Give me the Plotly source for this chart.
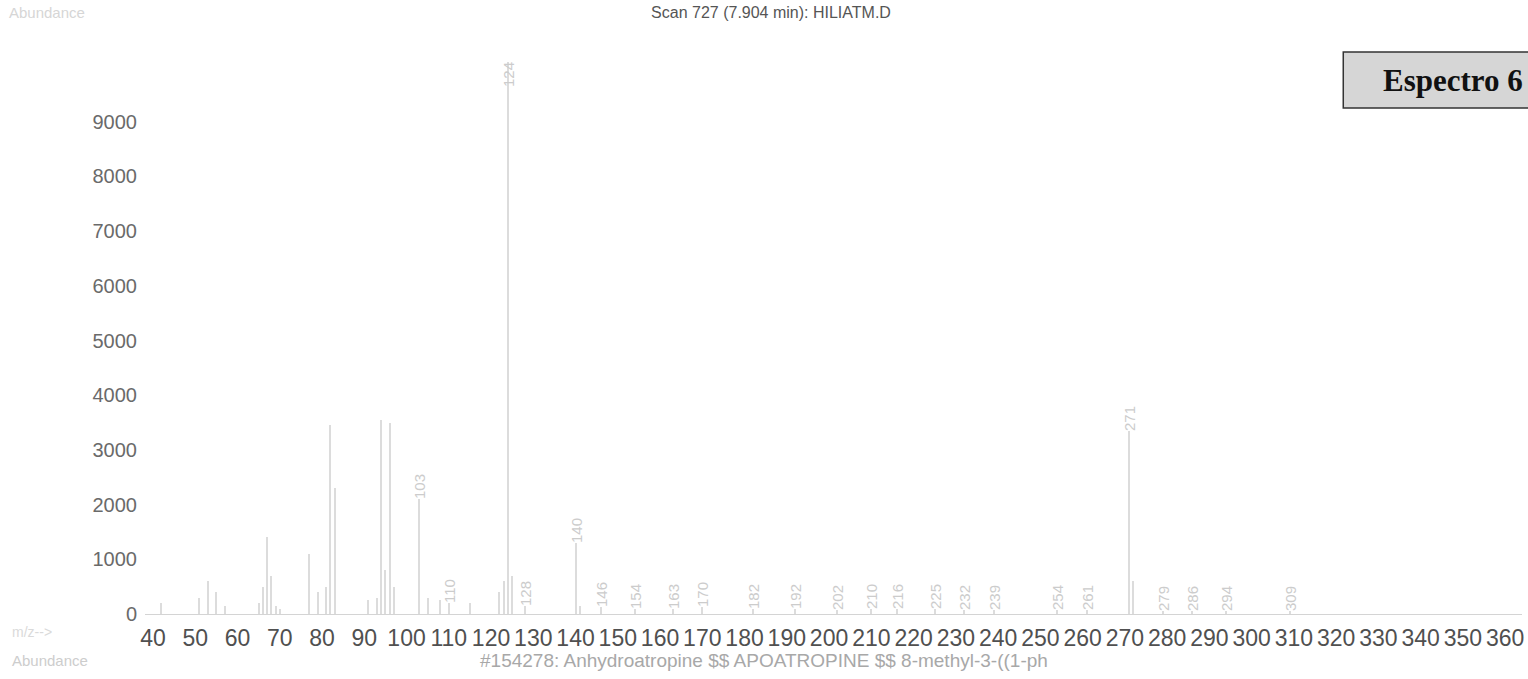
import plotly.graph_objects as go

# m/z values and abundances
mz = [42, 51, 53, 55, 57, 65, 66, 67, 68, 69, 70, 77, 79, 81, 82, 83, 91, 93, 94, 95, 96, 97,
      103, 105, 108, 110, 115, 122, 123, 124, 125, 128, 140, 141, 146, 154, 163, 170,
      182, 192, 202, 210, 216, 225, 232, 239, 254, 261, 271, 272, 279, 286, 294, 309]
abundance = [200, 300, 600, 400, 150, 200, 500, 1400, 700, 150, 100, 1100, 400, 500, 3450, 2300,
             250, 300, 3550, 800, 3500, 500, 2100, 300, 250, 200, 200, 400, 600, 10100, 700,
             150, 1300, 150, 120, 100, 100, 120, 100, 100, 80, 100, 100, 90, 80, 80, 80, 70,
             3350, 600, 60, 60, 60, 50]
peak_labels = ["", "", "", "", "", "", "", "", "", "", "", "", "", "", "", "", "", "", "", "", "", "",
               "103", "", "", "110", "", "", "", "124", "", "128", "140", "", "146", "154", "163", "170",
               "182", "192", "202", "210", "216", "225", "232", "239", "254", "261", "271", "", "279",
               "286", "294", "309"]

x_ticks = list(range(40, 361, 10))
y_ticks = list(range(0, 9001, 1000))

title_text = "Scan 727 (7.904 min): HILIATM.D"
library_text = "#154278: Anhydroatropine $$ APOATROPINE $$ 8-methyl-3-((1-ph"

# the base peak's label sits alongside the top of its line, the others above their peaks
label_pos = ["inside" if lab == "124" else "outside" for lab in peak_labels]

fig = go.Figure()

fig.add_trace(go.Bar(
    x=mz,
    y=abundance,
    width=0.25,
    marker=dict(color="#dcdcdc", line=dict(width=0)),
    text=peak_labels,
    textposition=label_pos,
    insidetextanchor="end",
    textangle=-90,
    constraintext="none",
    cliponaxis=False,
    textfont=dict(size=15, color="#cccccc", family="Liberation Sans"),
    insidetextfont=dict(size=15, color="#cccccc", family="Liberation Sans"),
    outsidetextfont=dict(size=15, color="#cccccc", family="Liberation Sans"),
    showlegend=False,
))

fig.update_layout(
    width=1528,
    height=679,
    plot_bgcolor="white",
    paper_bgcolor="white",
    margin=dict(l=145, r=4, t=45, b=57),
    font=dict(family="Liberation Sans", color="#555555"),
    title=dict(text=title_text, x=771 / 1528, y=1 - 12 / 679, xanchor="center", yanchor="middle",
               xref="container", yref="container", font=dict(size=16, color="#555555")),
    bargap=0,
    xaxis=dict(
        range=[38.1, 364.0],
        tickvals=x_ticks,
        ticktext=[str(v) for v in x_ticks],
        tickangle=0,
        tickfont=dict(size=23, color="#505050"),
        ticks="",
        showgrid=False,
        zeroline=False,
        showline=False,
    ),
    yaxis=dict(
        range=[-146, 10402],
        tickvals=y_ticks,
        tickfont=dict(size=20, color="#6a6a6a"),
        ticklabelstandoff=7,
        showgrid=False,
        zeroline=True,
        zerolinecolor="#d4d4d4",
        zerolinewidth=1,
        showline=False,
        ticks="",
    ),
)

# "Espectro 6" box
fig.add_shape(type="rect", xref="paper", yref="paper", x0=0.8702, x1=1.01, y0=0.8908, y1=0.9879,
              fillcolor="#d6d6d6", line=dict(color="#333333", width=1.5), layer="above")
fig.add_annotation(text="<b>Espectro 6</b>", xref="paper", yref="paper", x=0.8977, y=0.9393,
                   xanchor="left", yanchor="middle", showarrow=False,
                   font=dict(family="Liberation Serif", size=31, color="#111111"))

# faint scan texts
fig.add_annotation(text="Abundance", xref="paper", yref="paper", x=-0.1, y=1.057,
                   xanchor="left", yanchor="middle", showarrow=False,
                   font=dict(size=15, color="#d6d6d6"))
fig.add_annotation(text="m/z-->", xref="paper", yref="paper", x=-0.098, y=-0.0173,
                   xanchor="left", yanchor="middle", showarrow=False,
                   font=dict(size=14, color="#dadada"))
fig.add_annotation(text="Abundance", xref="paper", yref="paper", x=-0.098, y=-0.0659,
                   xanchor="left", yanchor="middle", showarrow=False,
                   font=dict(size=15, color="#cdcdcd"))
fig.add_annotation(text=library_text, xref="paper", yref="paper", x=0.4496, y=-0.0659,
                   xanchor="center", yanchor="middle", showarrow=False,
                   font=dict(size=19, color="#a8a8a8"))

# drop the browser's default page margin so the figure sits at the window's corner
fig.write_html("out.html", config={"displayModeBar": False},
               post_script="document.body.style.margin='0';")
